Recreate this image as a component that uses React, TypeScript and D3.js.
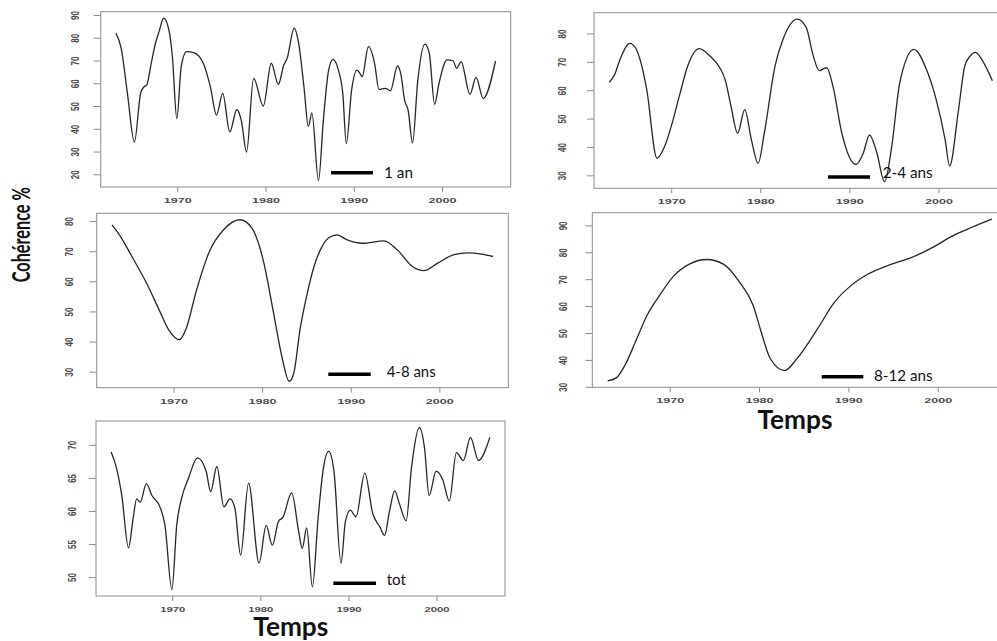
import React from 'react';
import * as d3 from 'd3';

const width = 997;
const height = 641;
const ink = '#262626';
const frame = '#8c8c8c';
const tickText = '#4a4a4a';

const xTicks = [1970, 1980, 1990, 2000];

// 1 an
const anYears = [1963, 1963.6, 1964.3, 1965.1, 1965.8, 1966.2, 1966.5, 1967, 1967.5, 1967.9, 1968.4, 1969, 1969.4, 1969.9, 1970.4, 1971, 1971.8, 1972.9, 1973.7, 1974.4, 1975.1, 1975.9, 1976.7, 1977.2, 1977.8, 1978.6, 1979.7, 1980.6, 1981.4, 1982, 1982.4, 1983.2, 1983.7, 1984.3, 1984.8, 1985.2, 1985.95, 1986.5, 1987.1, 1987.6, 1988.2, 1988.7, 1989.1, 1989.7, 1990.3, 1990.6, 1990.9, 1991.6, 1992.3, 1992.8, 1993.5, 1994.1, 1994.9, 1995.3, 1995.7, 1996.1, 1996.6, 1997.2, 1998, 1998.5, 1999.1, 1999.6, 2000.5, 2001.2, 2001.6, 2002.1, 2003.1, 2003.8, 2004.6, 2006];
const anValues = [82.3, 75.6, 56, 34.4, 55.8, 58.7, 59.5, 69, 78, 83, 88.8, 83.7, 72, 44.7, 67.5, 74.1, 73.7, 69, 58.7, 46.2, 55.8, 38.8, 48.7, 44, 30, 62.4, 50.2, 69, 59.7, 68, 71.2, 84.4, 77.8, 58.7, 41.3, 47.2, 17.5, 44, 66, 70.7, 66, 55.8, 33.7, 57.2, 66, 64.8, 63.1, 76.3, 69, 57.5, 58, 56.9, 67.8, 63.8, 52.8, 48.4, 34, 61.6, 77.4, 73.4, 51, 60.2, 70.5, 70, 66.8, 69.7, 55.4, 62.8, 53.5, 70];
const anTicks = [20, 30, 40, 50, 60, 70, 80, 90];

// 2-4 ans
const a24Years = [1963, 1963.6, 1964.2, 1965.3, 1966, 1966.6, 1967.2, 1968.35, 1969.2, 1970, 1970.9, 1971.8, 1973.1, 1974.3, 1975.4, 1976, 1976.7, 1977.4, 1978.2, 1978.95, 1979.7, 1980.4, 1981.6, 1982.5, 1984.1, 1985.1, 1985.9, 1986.55, 1987.4, 1988.1, 1989.1, 1990.7, 1991.5, 1992.2, 1993, 1993.9, 1994.7, 1995.6, 1997.2, 1998.6, 1999.7, 2000.7, 2001.2, 2002.2, 2002.9, 2003.5, 2004.1, 2005, 2006];
const a24Values = [63, 65.7, 71, 76.7, 74.8, 69.3, 60.4, 36.2, 40.3, 48, 58.6, 68.7, 74.8, 72.2, 68.1, 63.9, 53.9, 45, 53.3, 42.7, 34.4, 45.1, 68.7, 78.1, 85.2, 82.3, 72.2, 67.1, 68.1, 61.6, 45, 34, 37.9, 44.4, 38.5, 27.9, 40.3, 62.8, 74.6, 67.5, 56.8, 42.7, 33.5, 53.3, 68.7, 72.2, 73.5, 70, 63.5];
const a24Ticks = [30, 40, 50, 60, 70, 80];

// 4-8 ans
const a48Years = [1963, 1963.84, 1965.35, 1966.9, 1968.4, 1969.5, 1970.6, 1971.4, 1972.5, 1974, 1975.6, 1977.45, 1978.8, 1980.1, 1981.2, 1982.2, 1983, 1983.5, 1984.25, 1985, 1985.8, 1986.7, 1987.5, 1988.4, 1989.55, 1991.25, 1993.7, 1995.2, 1996.9, 1998.2, 1999.75, 2001.6, 2003.15, 2004.7, 2006];
const a48Values = [78.9, 75.6, 67.9, 59.6, 50.2, 43.6, 40.8, 44.7, 56.8, 70.1, 77.3, 80.6, 77.8, 66.8, 50.2, 34.8, 27, 29.5, 44.7, 55.7, 65.1, 71.7, 74.7, 75.6, 73.9, 72.8, 73.6, 70.6, 65.1, 63.7, 66.2, 69, 69.6, 69.2, 68.4];
const a48Ticks = [30, 40, 50, 60, 70, 80];

// 8-12 ans
const a812Years = [1963, 1964, 1964.95, 1966.1, 1967.4, 1968.9, 1970.4, 1972.2, 1974.1, 1976, 1977.8, 1979.3, 1980.1, 1981.2, 1982.8, 1984.2, 1986.5, 1988.35, 1990.2, 1992.1, 1994.7, 1996.9, 1999.6, 2001.5, 2003.7, 2006];
const a812Values = [32.4, 33.6, 38.3, 46.8, 56.7, 64.6, 71.4, 75.9, 77.5, 75.7, 68.9, 60.3, 51.5, 40.7, 36.2, 40.7, 51.8, 61.5, 67.7, 72, 75.7, 78.1, 82.4, 86.1, 89.4, 92.5];
const a812Ticks = [30, 40, 50, 60, 70, 80, 90];

// tot
const totYears = [1963, 1963.6, 1964.2, 1964.97, 1965.5, 1965.9, 1966.3, 1967, 1967.6, 1968.6, 1969.1, 1969.9, 1970.45, 1971, 1971.8, 1972.8, 1973.8, 1974.3, 1975, 1975.8, 1976.5, 1977.05, 1977.7, 1978.6, 1979.8, 1980.6, 1981.3, 1982, 1982.5, 1983.5, 1984.3, 1984.7, 1985.2, 1985.85, 1986.5, 1987.05, 1987.7, 1988.3, 1989.1, 1989.6, 1990.15, 1990.8, 1991.8, 1992.7, 1993.5, 1994.05, 1994.6, 1995.2, 1995.7, 1996.5, 1997.1, 1998, 1998.6, 1999.1, 1999.9, 2000.65, 2001.4, 2002.2, 2003, 2003.8, 2004.7, 2006];
const totValues = [69, 66.6, 62.5, 54.5, 59, 61.9, 61.4, 64.2, 62.5, 60.5, 58, 48.2, 58, 62, 65.1, 68.1, 66, 63, 66.8, 60.7, 61.9, 60.5, 53.4, 64.3, 52.2, 57.9, 54.9, 58.5, 59.1, 62.8, 56.9, 54.4, 57.5, 48.6, 59, 66.1, 69.1, 66.1, 52.2, 58.5, 60.2, 59.2, 65.8, 59.7, 57.7, 56.4, 60, 63.1, 61.3, 58.6, 66.6, 72.7, 69.4, 62.4, 66.1, 64.8, 61.6, 68.9, 67.7, 71.2, 67.7, 71.2];
const totTicks = [50, 55, 60, 65, 70];

// R-style axis padding (4%)
const pad = (ext: [number, number]): [number, number] => {
  const d = (ext[1] - ext[0]) * 0.04;
  return [ext[0] - d, ext[1] + d];
};

const panels = [
  { years: anYears, values: anValues, yTicks: anTicks, box: { l: 100.7, r: 510.7, t: 11.7, b: 187 }, yLabelGap: 25, xLabelLen: 28,
    legend: { label: '1 an', x0: 331, x1: 373, y: 172.7, tx: 384, ty: 177.5, tl: 29 } },
  { years: a24Years, values: a24Values, yTicks: a24Ticks, box: { l: 594, r: 1007.7, t: 12.7, b: 188.3 }, yLabelGap: 31, xLabelLen: 28,
    legend: { label: '2-4 ans', x0: 828, x1: 870, y: 177, tx: 882.7, ty: 177.5, tl: 50 } },
  { years: a48Years, values: a48Values, yTicks: a48Ticks, box: { l: 96.7, r: 508.3, t: 213.3, b: 387.7 }, yLabelGap: 27, xLabelLen: 28,
    legend: { label: '4-8 ans', x0: 328.3, x1: 370.7, y: 374.3, tx: 386.7, ty: 376.5, tl: 49 } },
  { years: a812Years, values: a812Values, yTicks: a812Ticks, box: { l: 592.3, r: 1007.2, t: 212.7, b: 387.3 }, yLabelGap: 29, xLabelLen: 28,
    legend: { label: '8-12 ans', x0: 821.7, x1: 863.3, y: 376.7, tx: 874, ty: 380.5, tl: 58.7 } },
  { years: totYears, values: totValues, yTicks: totTicks, box: { l: 96, r: 505, t: 421, b: 596 }, yLabelGap: 23, xLabelLen: 25,
    legend: { label: 'tot', x0: 333.3, x1: 376, y: 583.3, tx: 386.7, ty: 584.5, tl: 19.3 } },
];

function Panel({ p }: { p: typeof panels[number] }) {
  const { box, years, values, legend } = p;
  const x = d3.scaleLinear().domain(pad(d3.extent(years) as [number, number])).range([box.l, box.r]);
  const y = d3.scaleLinear().domain(pad(d3.extent(values) as [number, number])).range([box.b, box.t]);
  const line = d3.line<number>()
    .x((_, i) => x(years[i]))
    .y(d => y(d))
    .curve(d3.curveMonotoneX);

  return (
    <g>
      <rect x={box.l} y={box.t} width={box.r - box.l} height={box.b - box.t} fill="none" stroke={frame} strokeWidth={1} />
      {p.yTicks.map(t => (
        <g key={'y' + t}>
          <line x1={box.l - 7} x2={box.l} y1={y(t)} y2={y(t)} stroke={frame} />
          <text
            transform={`translate(${box.l - p.yLabelGap},${y(t)}) scale(1.3,1) rotate(-90)`}
            textAnchor="middle" dominantBaseline="central"
            fontFamily="'Liberation Sans', Arial, sans-serif" fontSize={8} fontWeight="bold" fill={tickText}
          >{t}</text>
        </g>
      ))}
      {xTicks.map(t => (
        <g key={'x' + t}>
          <line x1={x(t)} x2={x(t)} y1={box.b} y2={box.b + 5} stroke={frame} />
          <text
            x={x(t)} y={box.b + 13.5}
            textAnchor="middle" dominantBaseline="central"
            fontFamily="'Liberation Sans', Arial, sans-serif" fontSize={8} fontWeight="bold" fill={tickText}
            textLength={p.xLabelLen} lengthAdjust="spacingAndGlyphs"
          >{t}</text>
        </g>
      ))}
      <path d={line(values) ?? ''} fill="none" stroke={ink} strokeWidth={1.3} strokeLinejoin="round" />
      <line x1={legend.x0} x2={legend.x1} y1={legend.y} y2={legend.y} stroke="#000" strokeWidth={3.5} />
      <text x={legend.tx} y={legend.ty} fontFamily="Lato, 'Open Sans', sans-serif" fontSize={16} fill="#111"
        textLength={legend.tl} lengthAdjust="spacingAndGlyphs">{legend.label}</text>
    </g>
  );
}

export default function App() {
  return (
    <svg width={width} height={height} style={{ position: 'absolute', left: 0, top: 0, background: '#fff' }}>
      <rect width={width} height={height} fill="#fff" />
      {panels.map((p, i) => <Panel key={i} p={p} />)}
      <text transform="translate(29.5,234.7) rotate(-90)" textAnchor="middle"
        fontFamily="Lato, 'Open Sans', sans-serif" fontWeight="bold" fontSize={24} fill="#111"
        textLength={95} lengthAdjust="spacingAndGlyphs">Cohérence %</text>
      <text x={290.8} y={635.5} textAnchor="middle"
        fontFamily="Lato, 'Open Sans', sans-serif" fontWeight="bold" fontSize={26} fill="#111"
        textLength={75} lengthAdjust="spacingAndGlyphs">Temps</text>
      <text x={795} y={429} textAnchor="middle"
        fontFamily="Lato, 'Open Sans', sans-serif" fontWeight="bold" fontSize={26} fill="#111"
        textLength={75} lengthAdjust="spacingAndGlyphs">Temps</text>
    </svg>
  );
}
